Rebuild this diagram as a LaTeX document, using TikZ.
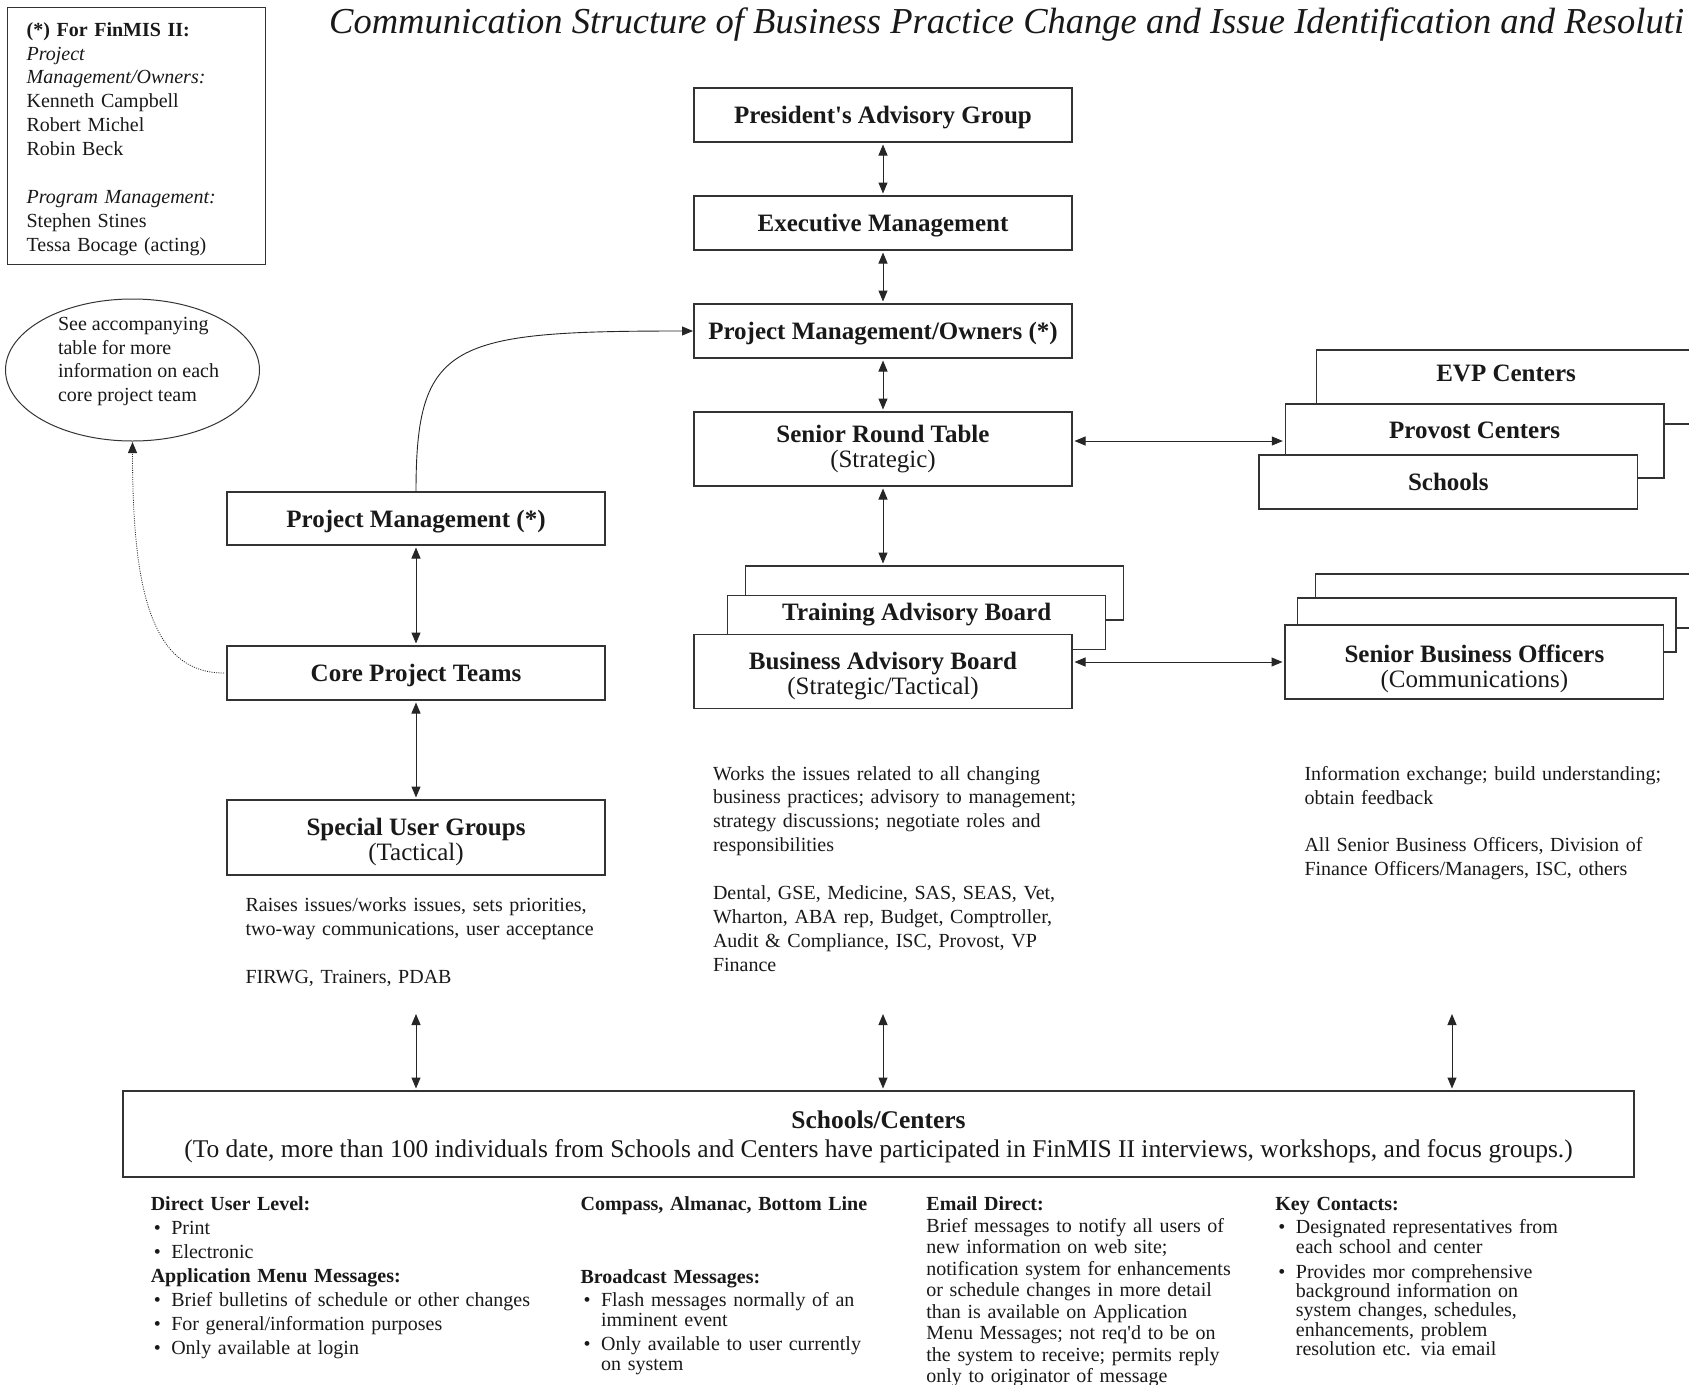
\documentclass[tikz,border=0pt]{standalone}
\usepackage{fontspec}
\setmainfont{Liberation Serif}
\usetikzlibrary{arrows.meta,shapes.geometric,calc}
\newcommand\bxf{\fontsize{25}{25}\selectfont}
\newcommand\txf{\fontsize{20}{23.9}\selectfont}
\newcommand\bul{\hspace*{3pt}\makebox[17.5pt][l]{\textbullet}}
\newcommand\cont{\hspace*{20.5pt}}
\begin{document}
\begin{tikzpicture}[x=1pt,y=-1pt,
  box/.style={draw=black!80, line width=1.2pt, fill=white, minimum width=378pt,
    minimum height=54pt, inner sep=0pt, outer sep=0pt, anchor=north west,
    font=\bxf, align=center, text=black!90},
  one/.style={text height=17pt, text depth=0pt},
  lbl/.style={anchor=center, font=\bxf\bfseries, inner sep=0pt, text=black!90},
  lbltwo/.style={anchor=center, font=\bxf, align=center, inner sep=0pt, text=black!90},
  txt/.style={anchor=north west, inner sep=0pt, outer sep=0pt, align=left,
    font=\txf, text=black!90},
  arr/.style={{Triangle[length=11pt,width=9pt]}-{Triangle[length=11pt,width=9pt]},
    line width=1pt, draw=black!85, shorten >=2.5pt, shorten <=2.5pt},
  onearr/.style={-{Triangle[length=11pt,width=9pt]}, line width=0.9pt, draw=black!85}
]
\useasboundingbox (0,0) rectangle (1689,1384);
\fill[white] (0,0) rectangle (1689,1384);

% title
\node[anchor=base west, inner sep=0pt, font=\fontsize{36.55}{40}\selectfont\itshape, text=black!90]
  (title) at (329,33.5) {Communication Structure of Business Practice Change and Issue Identification and Resoluti};

% legend box
\node[draw=black!80, line width=1.2pt, anchor=north west, minimum height=257.5pt,
  text width=219.5pt, inner xsep=19.5pt, inner ysep=0pt, align=left, font=\txf, text=black!90]
  (legend) at (6.5,6.5) {\rule{0pt}{20pt}{\bfseries (*) For FinMIS II:}\\ \textit{Project}\\ \textit{Management/Owners:}\\
  Kenneth Campbell\\ Robert Michel\\ Robin Beck\\[23.9pt] \textit{Program Management:}\\
  Stephen Stines\\ Tessa Bocage (acting)};

% ellipse note
\node[ellipse, draw=black!80, line width=1pt, minimum width=254pt, minimum height=142pt,
  inner sep=0pt] (note) at (132.5,370) {};
\node[txt, font=\fontsize{20}{23.5}\selectfont] (notetxt) at (58,317.5)
  {See accompanying\\ table for more\\ information on each\\ core project team};

% centre column
\node[box, one] (pag) at (694,88) {\bfseries President\textquotesingle s Advisory Group};
\node[box, one] (em) at (694,196) {\bfseries Executive Management};
\node[box, one] (pmo) at (694,304) {\bfseries Project Management/Owners (*)};
\node[box, minimum height=74pt, label={[lbltwo, yshift=-37pt]north:{{\bfseries Senior Round Table}\\(Strategic)}}] (srt) at (694,412) {};
\node[box] (tab2) at (745.7,566) {};
\node[box, label={[lbl, yshift=-19pt]north:Training Advisory Board}] (tab) at (727.7,595.3) {};
\node[box, minimum height=74pt, label={[lbltwo, yshift=-41.6pt]north:{{\bfseries Business Advisory Board}\\(Strategic/Tactical)}}] (bab) at (694,634.7) {};

% left column
\node[box, one, minimum height=53pt] (pm) at (227,492) {\bfseries Project Management (*)};
\node[box, one] (cpt) at (227,646) {\bfseries Core Project Teams};
\node[box, minimum height=75pt, label={[lbltwo, yshift=-42.2pt]north:{{\bfseries Special User Groups}\\(Tactical)}}] (sug) at (227,800) {};

% right column
\node[box, minimum width=378.7pt, minimum height=74pt, label={[lbl, yshift=-23pt]north:EVP Centers}] (evp) at (1316.7,350) {};
\node[box, minimum width=378.7pt, minimum height=74pt, label={[lbl, yshift=-26pt]north:Provost Centers}] (prov) at (1285.3,404) {};
\node[box, one, minimum width=378.7pt] (schools) at (1259,455) {\bfseries Schools};
\node[box] (sbo3) at (1315.3,574) {};
\node[box, minimum width=378.3pt] (sbo2) at (1297.7,598) {};
\node[box, minimum width=378.7pt, minimum height=74pt, label={[lbltwo, yshift=-43.5pt]north:{{\bfseries Senior Business Officers}\\(Communications)}}] (sbo) at (1285,625) {};

% bottom box
\node[box, minimum width=1511pt, minimum height=86pt, line width=1.5pt,
  label={[lbltwo, font=\fontsize{25.5}{29}\selectfont, yshift=-46.2pt]north:{{\bfseries Schools/Centers}\\(To date, more than 100 individuals from Schools and Centers have participated in FinMIS II interviews, workshops, and focus groups.)}}] (sc) at (123,1091) {};

% description texts
\node[txt, text width=420pt] (ltxt) at (245.6,897.8)
  {Raises issues/works issues, sets priorities,\\ two-way communications, user acceptance\\[23.9pt] FIRWG, Trainers, PDAB};
\node[txt, text width=420pt] (ctxt) at (713,766.2)
  {Works the issues related to all changing\\ business practices; advisory to management;\\ strategy discussions; negotiate roles and\\ responsibilities\\[23.9pt]
   Dental, GSE, Medicine, SAS, SEAS, Vet,\\ Wharton, ABA rep, Budget, Comptroller,\\ Audit \& Compliance, ISC, Provost, VP\\ Finance};
\node[txt, text width=380pt] (rtxt) at (1304.5,766.2)
  {Information exchange; build understanding;\\ obtain feedback\\[23.9pt] All Senior Business Officers, Division of\\ Finance Officers/Managers, ISC, others};

% bottom columns
\node[txt, text width=420pt] (col1) at (150.8,1197)
  {{\bfseries Direct User Level:}\\ \bul Print\\ \bul Electronic\\ {\bfseries Application Menu Messages:}\\
   \bul Brief bulletins of schedule or other changes\\ \bul For general/information purposes\\ \bul Only available at login};
\node[txt, text width=330pt, font=\fontsize{20}{19.4}\selectfont] (col2) at (580.6,1197)
  {{\bfseries Compass, Almanac, Bottom Line}\\[52.8pt] {\bfseries Broadcast Messages:}\\[4.3pt]
   \bul Flash messages normally of an\\ \cont imminent event\\[5.4pt] \bul Only available to user currently\\ \cont on system};
\node[txt, text width=330pt, font=\fontsize{20}{21.5}\selectfont] (col3) at (926.4,1197)
  {{\bfseries Email Direct:}\\ Brief messages to notify all users of\\ new information on web site;\\ notification system for enhancements\\
   or schedule changes in more detail\\ than is available on Application\\ Menu Messages; not req\textquotesingle d to be on\\ the system to receive; permits reply\\ only to originator of message};
\node[txt, text width=330pt, font=\fontsize{20}{19.4}\selectfont] (col4) at (1275.4,1197)
  {{\bfseries Key Contacts:}\\[4.3pt] \bul Designated representatives from\\ \cont each school and center\\[5.4pt]
   \bul Provides mor comprehensive\\ \cont background information on\\ \cont system changes, schedules,\\ \cont enhancements, problem\\ \cont resolution etc. via email};

% connectors
\draw[arr] (pag.south) -- (em.north);
\draw[arr] (em.south) -- (pmo.north);
\draw[arr] (pmo.south) -- (srt.north);
\draw[arr] (srt.south) -- (srt.south |- tab2.north);
\draw[arr] (srt.east |- prov.west) -- (prov.west);
\draw[arr] (bab.east |- sbo.west) -- (sbo.west);
\draw[arr] (pm.south) -- (cpt.north);
\draw[arr] (cpt.south) -- (sug.north);
\draw[onearr, shorten >=1pt] (pm.north) .. controls ($(pm.north)+(0,-150)$) and ($(pmo.west)+(-244,0)$) .. (pmo.west);
\draw[onearr, line width=0.8pt, dash pattern=on 1pt off 1.3pt, shorten >=0.5pt, shorten <=3pt]
  (cpt.west) .. controls ($(cpt.west)+(-77,0)$) and ($(note.south)+(0,145)$) .. (note.south);

\coordinate (u1) at (416,1011.5);
\coordinate (u2) at (883,1011.5);
\coordinate (u3) at (1452,1011.5);
\draw[arr] (u1) -- (u1 |- sc.north);
\draw[arr] (u2) -- (u2 |- sc.north);
\draw[arr] (u3) -- (u3 |- sc.north);
\end{tikzpicture}
\end{document}
